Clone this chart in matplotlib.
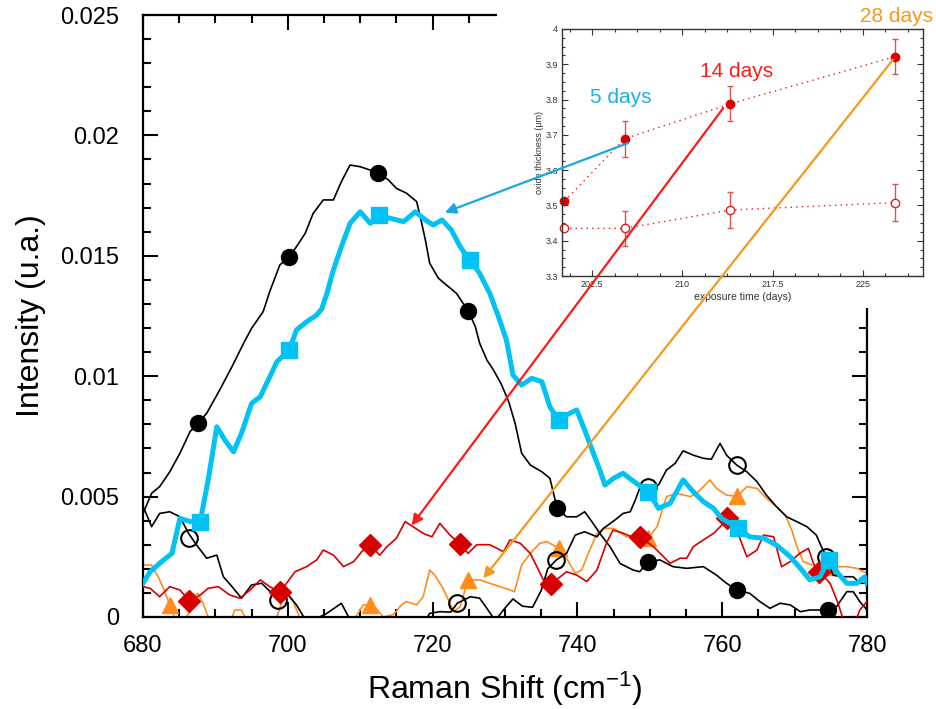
import matplotlib
matplotlib.use('Agg')
import matplotlib.pyplot as plt
from matplotlib.patches import Rectangle, ConnectionPatch
from matplotlib.ticker import MultipleLocator, FuncFormatter

plt.rcParams['font.family'] = ['Liberation Sans', 'DejaVu Sans']
plt.rcParams['mathtext.default'] = 'regular'

# --- Raman spectra ---
# black, filled circles
a_x = [680, 681.2, 682.3, 683.7, 685.1, 686.5, 687.6, 688.8, 690.6, 692.3, 693.9, 695, 696.6, 697.5,
       698.9, 700.2, 701.2, 702.4, 703.5, 704.9, 706.3, 707.4, 708.6, 710, 712.5, 713.9, 715, 716.4,
       717.8, 718.3, 719, 719.6, 720.8, 721.9, 723.3, 724.9, 725.9, 726.5, 727.5, 728.4, 729.5, 730.5,
       731.4, 732.3, 733.5, 735.1, 736.2, 736.7, 737.2, 738.5, 739.9, 741, 742, 743.1, 744.5, 745.9,
       747.7, 748.6, 749.8, 751.4, 753.2, 755.1, 757.4, 759.2, 760.6, 762, 763.8, 765.2, 766.6, 768,
       769.4, 770.8, 772.1, 774.7, 775.8, 777.2, 778.1, 779, 780]
a_y = [0.0043, 0.00514, 0.00541, 0.00603, 0.0068, 0.0077, 0.00804, 0.00846, 0.00943, 0.0104, 0.01137,
       0.01199, 0.01268, 0.01351, 0.01462, 0.01496, 0.01538, 0.01593, 0.01676, 0.01732, 0.01732, 0.01808,
       0.01877, 0.0187, 0.01845, 0.01815, 0.0178, 0.0176, 0.01725, 0.01662, 0.01566, 0.01469, 0.01407,
       0.01379, 0.01344, 0.01272, 0.01206, 0.01137, 0.01067, 0.01026, 0.00966, 0.00895, 0.00804, 0.0068,
       0.00631, 0.00603, 0.00576, 0.00514, 0.00451, 0.00416, 0.00416, 0.00437, 0.00396, 0.00347, 0.00292,
       0.00222, 0.00195, 0.00188, 0.0023, 0.00237, 0.00209, 0.00202, 0.00209, 0.00174, 0.0014, 0.00112,
       0.00098, 0.00064, 0.00036, 0.00057, 0.0005, 0.00022, 0.00029, 0.00029, 0.00043, 0.00105, 0.00105,
       0.00064, 0.00029]
a_mx = [687.6, 700.2, 712.5, 724.9, 737.2, 749.8, 762, 774.6]
a_my = [0.00804, 0.01496, 0.01845, 0.01272, 0.00451, 0.0023, 0.00112, 0.00029]

# cyan, filled squares
b_x = [680, 681, 682.3, 684, 685.1, 686.5, 687.9, 689, 690.2, 691.3, 692.5, 693.6, 695, 696.2, 697.3,
       698.5, 700.2, 701.2, 702.6, 704, 704.7, 705.4, 706.3, 707.4, 708.6, 710, 711.4, 712.6, 714.1, 716,
       717.6, 719, 720.1, 721.3, 722.6, 723.8, 725.1, 726.5, 727.9, 729.1, 730.2, 731.1, 732.3, 733.7,
       735.1, 736.2, 737.4, 738.5, 739.9, 741, 742.2, 743.1, 743.8, 745, 746.3, 747.5, 749.8, 751.2,
       752.8, 754.6, 756, 757.4, 758.8, 759.9, 762.2, 763.8, 765.7, 767.5, 769.4, 771, 772.1, 773.5,
       774.7, 776, 777.2, 778.6, 779.7, 780]
b_y = [0.0014, 0.00188, 0.00223, 0.00264, 0.0041, 0.00396, 0.00396, 0.00569, 0.0079, 0.00735, 0.00686,
       0.00763, 0.00887, 0.00915, 0.00984, 0.0106, 0.01109, 0.01192, 0.01226, 0.01254, 0.0128, 0.01344,
       0.01441, 0.01538, 0.01635, 0.01683, 0.01635, 0.0167, 0.01656, 0.01642, 0.01683, 0.01649, 0.01628,
       0.01649, 0.01607, 0.01538, 0.01483, 0.01427, 0.01344, 0.01247, 0.0115, 0.01005, 0.00963, 0.00991,
       0.00977, 0.00873, 0.00818, 0.00839, 0.0086, 0.00777, 0.0068, 0.0061, 0.00548, 0.00576, 0.00597,
       0.00569, 0.0052, 0.00451, 0.00472, 0.00569, 0.0052, 0.00479, 0.00451, 0.0041, 0.00368, 0.00333,
       0.00327, 0.00299, 0.0025, 0.00195, 0.00154, 0.00167, 0.00237, 0.00181, 0.0014, 0.0014, 0.00167,
       0.0014]
b_mx = [687.9, 700.2, 712.6, 725.1, 737.4, 749.8, 762.2, 774.7]
b_my = [0.00396, 0.01109, 0.0167, 0.01483, 0.00818, 0.0052, 0.00368, 0.00237]

# black, open circles
c_x = [680, 681.2, 682.3, 683.7, 685.1, 686.3, 687.4, 688.8, 690.2, 691.1, 692.3, 693.6, 695, 696.4,
       697.8, 698.7, 700.1, 701.2, 702.2, 703.2, 704.4, 705.4, 707.4, 708.4, 710, 712, 714, 716, 718,
       719.3, 719.6, 721, 722.5, 723.4, 725.2, 726.5, 727.5, 728.3, 728.8, 729.8, 731.1, 732.4, 733.8,
       735, 735.9, 737.1, 738.5, 739.7, 741, 742.7, 743.6, 745.2, 746.3, 747.3, 748, 748.6, 749.8, 751.2,
       752.3, 753.5, 754.6, 756, 757.4, 758.5, 759.7, 760.6, 762, 763.4, 764.8, 766.1, 767.5, 768.9,
       770.3, 771.7, 773, 773.7, 774.4, 775.3, 776.5, 778.1, 779, 780]
c_y = [0.0046, 0.00375, 0.0043, 0.00437, 0.00416, 0.00347, 0.00299, 0.00244, 0.00257, 0.00167, 0.00126,
       0.00078, 0.00133, 0.0014, 0.00098, 0.0007, 0.00091, 0.0005, 0.0, -0.0004, 0.0, 0.00015, 0.00057,
       0.0, -0.0008, -0.001, -0.0008, -0.0009, -0.0005, 0.0, 0.00015, 0.00022, 0.0002, 0.00057, 0.00084,
       0.00078, 0.00036, 0.0, -0.0001, 0.0003, 0.00075, 0.00045, 0.0004, 0.0011, 0.002, 0.00237, 0.00264,
       0.0034, 0.00354, 0.00333, 0.00368, 0.00403, 0.0043, 0.00437, 0.00486, 0.00534, 0.0054, 0.00548,
       0.0061, 0.00638, 0.0069, 0.00672, 0.00659, 0.00655, 0.00721, 0.00672, 0.00631, 0.00603, 0.00562,
       0.00506, 0.00458, 0.00416, 0.00396, 0.00375, 0.0034, 0.00292, 0.0025, 0.00174, 0.00167, 0.00167,
       0.0014, 0.0014]
c_mx = [686.3, 698.7, 723.4, 737.1, 749.8, 762, 774.4]
c_my = [0.0033, 0.0007, 0.00057, 0.00237, 0.0054, 0.00631, 0.0025]

# red, filled diamonds
d_x = [680, 681, 682.3, 683.7, 685.1, 686.4, 687.9, 689, 690.4, 692, 693.4, 694.8, 696.2, 697.5, 698.9,
       701, 702.6, 704, 704.9, 706.3, 707.7, 709.1, 710.2, 711.3, 712.7, 713.7, 715, 716.2, 717.3, 718.7,
       719.9, 721, 722.4, 723.8, 724.9, 726.1, 727.9, 729.8, 730.7, 732.1, 733.5, 734.4, 735.3, 736.3,
       737.1, 738.5, 739.9, 741.3, 742.7, 744, 744.9, 746.3, 747.5, 748.6, 750.5, 751.9, 752.8, 754.2,
       755.1, 756, 757.4, 758.8, 760.2, 760.7, 762, 763.4, 764.8, 765.7, 767.1, 768.2, 769.4, 770.7,
       771.9, 772.6, 773.4, 774.9, 776, 776.7, 777.5, 778.3, 779, 780]
d_y = [0.00126, 0.00119, 0.00084, 0.00126, 0.00112, 0.00068, 0.00091, 0.00119, 0.00126, 0.00091, 0.00078,
       0.00112, 0.00154, 0.00126, 0.00102, 0.00188, 0.00209, 0.00237, 0.00278, 0.00257, 0.00209, 0.0023,
       0.00271, 0.003, 0.00257, 0.00292, 0.00327, 0.00396, 0.00375, 0.00347, 0.00333, 0.00389, 0.0034,
       0.00303, 0.00264, 0.003, 0.003, 0.00271, 0.0032, 0.00306, 0.00264, 0.00209, 0.00154, 0.00137,
       0.00154, 0.00188, 0.00174, 0.00147, 0.00195, 0.00306, 0.00361, 0.00348, 0.00333, 0.00333, 0.00292,
       0.00250, 0.00223, 0.00244, 0.00244, 0.00292, 0.0032, 0.00347, 0.00389, 0.0041, 0.00361, 0.0025,
       0.00278, 0.0034, 0.00333, 0.00209, 0.0023, 0.00264, 0.00285, 0.00223, 0.00188, 0.0014, 0.00057,
       -0.0001, -0.0008, -0.0003, 0.00029, 0.00064]
d_mx = [686.4, 698.9, 711.3, 723.8, 736.3, 748.6, 760.7, 773.4]
d_my = [0.00068, 0.00102, 0.003, 0.00303, 0.00137, 0.00333, 0.0041, 0.00188]

# orange, filled triangles
e_x = [680, 681.2, 682.1, 683, 683.7, 684.6, 685.5, 686.4, 686.9, 687.6, 688.3, 689, 690, 691.5, 692.3,
       692.7, 693.6, 694.1, 695.5, 697.5, 698.5, 699.2, 700.1, 700.8, 701.6, 703, 705, 707, 709.4, 710.4,
       711.8, 713.2, 714.6, 715.7, 716.4, 717.8, 718.7, 719.6, 720.3, 721.3, 722.2, 722.9, 723.8, 724.9,
       726.5, 727.9, 729.3, 730.7, 731.3, 732.3, 733.5, 734.8, 735.8, 737.4, 738.5, 739.7, 740.6, 741.5,
       742.7, 743.6, 745, 746.8, 748.5, 749.8, 751, 752.3, 753.7, 755.6, 756.5, 758.3, 759.2, 760.6,
       762.1, 763.4, 764.8, 766.1, 767.5, 768.7, 769.6, 770.3, 771.2, 772.4, 773.5, 775, 777.2, 778.6, 780]
e_y = [0.00216, 0.00216, 0.00167, 0.00105, 0.0005, -0.0002, -0.0003, 0.0002, 0.00084, 0.00098, 0.00057,
       0.0, -0.0006, -0.0004, 0.0, 0.00029, 0.00029, 0.0, -0.0005, -0.0003, 0.0, 0.00064, 0.00091, 0.0006,
       0.0, -0.0005, -0.0006, -0.0004, 0.0, 0.0005, 0.0005, 0.0, 0.0001, 0.0005, 0.00064, 0.0005, 0.00084,
       0.00195, 0.00174, 0.00126, 0.0007, 0.00022, 0.00043, 0.00154, 0.00154, 0.0014, 0.00126, 0.00112,
       0.00105, 0.00216, 0.00264, 0.00306, 0.00313, 0.00285, 0.00244, 0.00181, 0.00195, 0.00264, 0.00347,
       0.00368, 0.00368, 0.00333, 0.0033, 0.00327, 0.00375, 0.005, 0.00514, 0.005, 0.00514, 0.00569,
       0.00534, 0.00506, 0.00502, 0.00541, 0.00534, 0.00493, 0.00458, 0.00424, 0.00361, 0.00292, 0.0023,
       0.00216, 0.00209, 0.00209, 0.00209, 0.00202, 0.00181]
e_mx = [683.7, 711.3, 724.9, 737.4, 749.8, 762.1, 775]
e_my = [0.0005, 0.0005, 0.00154, 0.00285, 0.00327, 0.00502, 0.00209]

# --- inset: oxide thickness vs exposure time ---
days = [200.2, 205.2, 214.0, 227.7]
thick_filled = [3.512, 3.689, 3.788, 3.922]
err_filled = [0.0, 0.051, 0.05, 0.05]
thick_open = [3.435, 3.435, 3.487, 3.508]
err_open = [0.0, 0.05, 0.05, 0.052]

CYAN = '#00c2f3'
RED = '#d60000'
ORANGE = '#ff8d1c'

fig = plt.figure(figsize=(9.37, 7.09), dpi=100)
ax = fig.add_axes([0.1526, 0.1298, 0.7727, 0.849])

ax.plot(e_x, e_y, color=ORANGE, lw=1.2, zorder=2)
ax.plot(e_mx, e_my, '^', color=ORANGE, ms=12, zorder=2)
ax.plot(c_x, c_y, color='black', lw=1.2, zorder=3)
ax.plot(c_mx, c_my, 'o', mfc='none', mec='black', mew=1.5, ms=12, zorder=3)
ax.plot(a_x, a_y, color='black', lw=1.2, zorder=3)
ax.plot(a_mx, a_my, 'o', color='black', ms=11.5, zorder=3)
ax.plot(d_x, d_y, color=RED, lw=1.2, zorder=4)
ax.plot(d_mx, d_my, 'D', color=RED, ms=11, zorder=4)
ax.plot(b_x, b_y, color=CYAN, lw=3.6, zorder=5)
ax.plot(b_mx, b_my, 's', color=CYAN, ms=12, zorder=5)

ax.set_xlim(680, 780)
ax.set_ylim(0, 0.025)
ax.xaxis.set_major_locator(MultipleLocator(20))
ax.xaxis.set_minor_locator(MultipleLocator(5))
ax.yaxis.set_major_locator(MultipleLocator(0.005))
ax.yaxis.set_minor_locator(MultipleLocator(0.001))
ax.yaxis.set_major_formatter(FuncFormatter(lambda v, p: '%g' % round(v, 4)))
ax.tick_params(which='both', direction='in', top=True, right=True, width=1.5)
ax.tick_params(which='major', length=11, labelsize=17)
ax.tick_params(which='minor', length=6)
ax.tick_params(axis='x', pad=13)
ax.tick_params(axis='y', pad=17)
for s in ax.spines.values():
    s.set_linewidth(1.6)
ax.set_xlabel('Raman Shift (cm$^{-1}$)', fontsize=23, labelpad=9)
ax.set_ylabel('Intensity (u.a.)', fontsize=23, labelpad=10)

# white panel behind the inset (hides top-right of the main frame)
fig.add_artist(Rectangle((0.5304, 0.5655), 0.4696, 0.4345, transform=fig.transFigure,
                         facecolor='white', edgecolor='none', zorder=1))

ins = fig.add_axes([0.5998, 0.6107, 0.3853, 0.3484], zorder=2)
ins.plot(days, thick_filled, linestyle=(0, (1, 3)), color='#e02020', lw=1.0)
ins.plot(days, thick_open, linestyle=(0, (1, 3)), color='#e02020', lw=1.0)
ins.errorbar(days, thick_filled, yerr=err_filled, fmt='none', ecolor='#d9534f', elinewidth=1, capsize=2)
ins.errorbar(days, thick_open, yerr=err_open, fmt='none', ecolor='#d9534f', elinewidth=1, capsize=2)
ins.plot(days, thick_filled, 'o', color='#e00000', ms=6, clip_on=False)
ins.plot(days, thick_open, 'o', mfc='white', mec='#e02020', mew=1, ms=6, clip_on=False)
ins.set_xlim(200, 230)
ins.set_ylim(3.3, 4.0)
ins.set_xticks([202.5, 210, 217.5, 225])
ins.set_xticklabels(['202.5', '210', '217.5', '225'])
ins.xaxis.set_minor_locator(MultipleLocator(1.875))
ins.yaxis.set_major_locator(MultipleLocator(0.1))
ins.yaxis.set_minor_locator(MultipleLocator(0.025))
ins.yaxis.set_major_formatter(FuncFormatter(lambda v, p: '%g' % round(v, 2)))
ins.tick_params(which='both', direction='in', top=True, right=True, width=0.8, colors='#333333',
                labelsize=6.5, pad=3)
ins.tick_params(which='major', length=4)
ins.tick_params(which='minor', length=2)
for s in ins.spines.values():
    s.set_linewidth(1.0)
    s.set_color('#333333')
ins.set_xlabel('exposure time (days)', fontsize=7.5, color='#333333', labelpad=2)
ins.set_ylabel('oxide thickness (\u03bcm)', fontsize=6.5, color='#333333', labelpad=1)

ins.text(202.3, 3.805, '5 days', color='#1ab0e8', fontsize=15, va='center')
ins.text(211.5, 3.879, '14 days', color='#ff1a1a', fontsize=15, va='center')
ins.text(224.8, 4.035, '28 days', color='#f39a1e', fontsize=15, va='center', clip_on=False)

# arrows linking inset points to spectra
arrows = [((205.5, 3.677), (721.7, 0.0168), '#1aa8e0'),
          ((213.4, 3.776), (717.1, 0.0038), '#ff1a1a'),
          ((227.5, 3.913), (727.0, 0.0016), '#f39a1e')]
for (xa, xb, col) in arrows:
    con = ConnectionPatch(xyA=xa, coordsA=ins.transData, xyB=xb, coordsB=ax.transData,
                          arrowstyle='-|>', mutation_scale=16, color=col, lw=1.6, zorder=6)
    fig.add_artist(con)

fig.savefig('out.png', dpi=100)
